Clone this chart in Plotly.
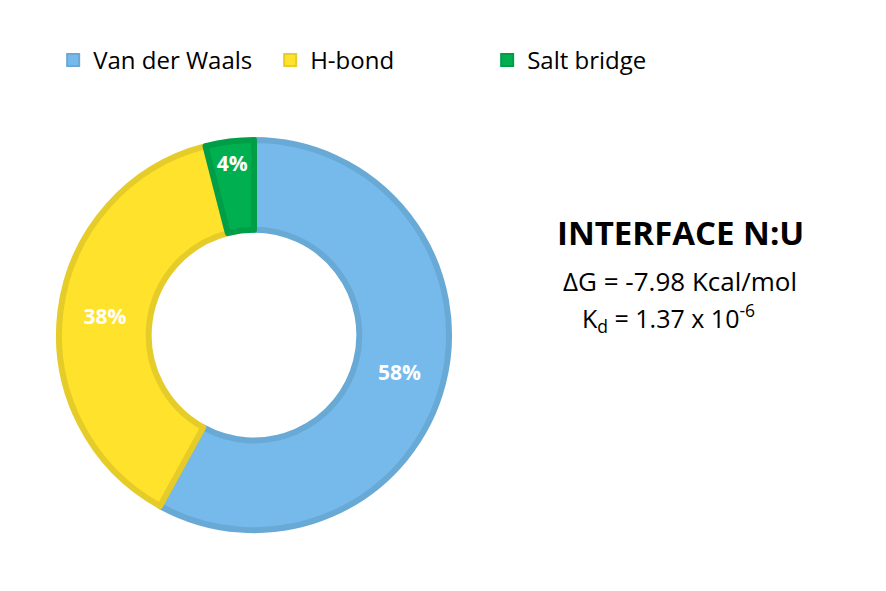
import plotly.graph_objects as go

# interaction share at the interface
labels = ["Van der Waals", "H-bond", "Salt bridge"]
values = [58, 38, 4]

fill_colors = ["#75BAEA", "#FFE22B", "#00B050"]
edge_colors = ["#69A9D6", "#E6CC28", "#009E47"]

fig = go.Figure(go.Pie(
    labels=labels,
    values=values,
    hole=0.54,
    sort=False,
    direction="clockwise",
    rotation=0,
    marker=dict(colors=fill_colors, line=dict(color=edge_colors, width=6)),
    texttemplate="<b>%{percent:.0%}</b>",
    textposition="inside",
    insidetextorientation="horizontal",
    textfont=dict(family="Open Sans", size=21, color="white"),
    domain=dict(x=[0.0643, 0.5091], y=[0.103, 0.763]),
))

# side panel text
fig.add_annotation(text="<b>INTERFACE N:U</b>", x=0.768, y=0.607,
                   xref="paper", yref="paper", xanchor="center", showarrow=False,
                   font=dict(family="Open Sans", size=33, color="black"))
fig.add_annotation(text="ΔG = -7.98 Kcal/mol", x=0.768, y=0.525,
                   xref="paper", yref="paper", xanchor="center", showarrow=False,
                   font=dict(family="Open Sans", size=26, color="black"))
fig.add_annotation(text="K<sub>d</sub> = 1.37 x 10<sup>-6</sup>", x=0.754, y=0.462,
                   xref="paper", yref="paper", xanchor="center", showarrow=False,
                   font=dict(family="Open Sans", size=25, color="black"))

fig.update_layout(
    width=886, height=591,
    margin=dict(l=0, r=0, t=0, b=0),
    paper_bgcolor="white",
    showlegend=True,
    legend=dict(orientation="h", x=0.06, y=0.936, xanchor="left", yanchor="top",
                font=dict(family="Open Sans", size=24, color="black"),
                entrywidth=172, itemsizing="constant"),
)

fig.write_html("out.html", config={"displayModeBar": False},
               post_script="document.body.style.margin='0';")
